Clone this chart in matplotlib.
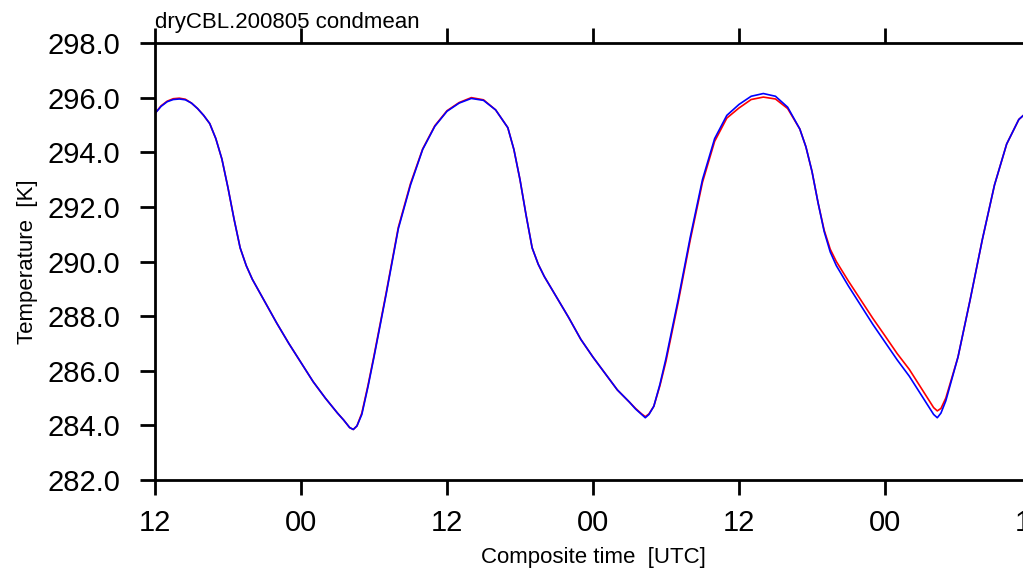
import matplotlib
matplotlib.use("Agg")
import matplotlib.pyplot as plt

# composite time in hours since 12 UTC
hours = [0, 0.5, 1, 1.5, 2, 2.5, 3, 3.5, 4, 4.5, 5, 5.5, 6, 6.5, 7, 7.5, 8, 9, 10, 11,
         12, 13, 14, 15, 15.5, 16, 16.3, 16.6, 17, 17.5, 18, 19, 20, 21, 22, 23, 24,
         25, 26, 27, 28, 29, 29.5, 30, 30.5, 31, 31.5, 32, 33, 34, 35, 36, 37, 38, 39,
         39.5, 40, 40.3, 40.6, 41, 41.5, 42, 43, 44, 45, 46, 47, 48, 49, 50, 51, 52,
         53, 53.5, 54, 54.5, 55, 55.5, 56, 57, 58, 59, 60, 61, 62, 63, 63.5, 64, 64.3,
         64.6, 65, 65.5, 66, 67, 68, 69, 70, 71, 72]

temp_blue = [295.42, 295.68, 295.85, 295.93, 295.95, 295.92, 295.8, 295.6, 295.35, 295.05,
             294.5, 293.75, 292.7, 291.55, 290.5, 289.85, 289.35, 288.55, 287.75, 287.0,
             286.3, 285.6, 285.0, 284.45, 284.2, 283.92, 283.85, 283.98, 284.4, 285.4,
             286.5, 288.8, 291.2, 292.8, 294.1, 294.95, 295.5,
             295.8, 295.97, 295.9, 295.55, 294.9, 294.1, 293.0, 291.7, 290.5, 289.9,
             289.45, 288.7, 287.95, 287.15, 286.5, 285.9, 285.3, 284.85,
             284.6, 284.4, 284.28, 284.4, 284.7, 285.5, 286.45, 288.6, 290.9, 293.0,
             294.5, 295.35, 295.75, 296.05, 296.15, 296.05, 295.65,
             294.85, 294.2, 293.3, 292.15, 291.1, 290.35, 289.85, 289.1, 288.4, 287.7,
             287.05, 286.4, 285.8, 285.1, 284.75, 284.4, 284.28,
             284.45, 284.9, 285.7, 286.5, 288.6, 290.8, 292.8, 294.3, 295.2, 295.6]

temp_red = [295.42, 295.7, 295.87, 295.96, 295.98, 295.94, 295.8, 295.6, 295.35, 295.05,
            294.5, 293.75, 292.7, 291.55, 290.5, 289.85, 289.35, 288.55, 287.75, 287.0,
            286.3, 285.6, 285.0, 284.45, 284.2, 283.92, 283.85, 283.98, 284.45, 285.45,
            286.55, 288.85, 291.25, 292.85, 294.12, 294.97, 295.52,
            295.82, 296.0, 295.92, 295.55, 294.9, 294.1, 293.0, 291.7, 290.5, 289.9,
            289.45, 288.7, 287.95, 287.15, 286.5, 285.9, 285.3, 284.85,
            284.62, 284.42, 284.32, 284.42, 284.7, 285.45, 286.35, 288.5, 290.8, 292.9,
            294.4, 295.25, 295.62, 295.93, 296.02, 295.95, 295.6,
            294.85, 294.2, 293.3, 292.15, 291.15, 290.45, 290.0, 289.28, 288.6, 287.92,
            287.28, 286.63, 286.05, 285.35, 285.0, 284.65, 284.53,
            284.62, 285.0, 285.75, 286.5, 288.6, 290.8, 292.8, 294.3, 295.2, 295.6]

xtick_pos = [0, 12, 24, 36, 48, 60, 72]
xtick_lab = ["12", "00", "12", "00", "12", "00", "12"]
ytick_pos = [282, 284, 286, 288, 290, 292, 294, 296, 298]

plt.rcParams['font.family'] = ['Liberation Sans', 'DejaVu Sans']

fig = plt.figure(figsize=(10.23, 5.68), dpi=100)
ax = fig.add_axes([0.1515, 0.1549, 0.8563, 0.7694])

ax.plot(hours, temp_red, color="red", lw=1.2, solid_joinstyle="round")
ax.plot(hours, temp_blue, color="blue", lw=1.2, solid_joinstyle="round")

ax.set_xlim(0, 72)
ax.set_ylim(282, 298)
ax.set_xticks(xtick_pos)
ax.set_xticklabels(xtick_lab)
ax.set_yticks(ytick_pos)
ax.set_yticklabels([f"{v:.1f}" for v in ytick_pos])

ax.tick_params(axis="both", direction="out", length=11, width=2, labelsize=21)
ax.tick_params(axis="x", top=True, labeltop=False, pad=10)
ax.tick_params(axis="y", pad=14)
for s in ax.spines.values():
    s.set_linewidth(2)

ax.set_xlabel("Composite time  [UTC]", fontsize=16, labelpad=7)
ax.set_ylabel("Temperature  [K]", fontsize=16, labelpad=7)
ax.set_title("dryCBL.200805 condmean", fontsize=16, loc="left", pad=11)

fig.savefig("out.png", dpi=100)
